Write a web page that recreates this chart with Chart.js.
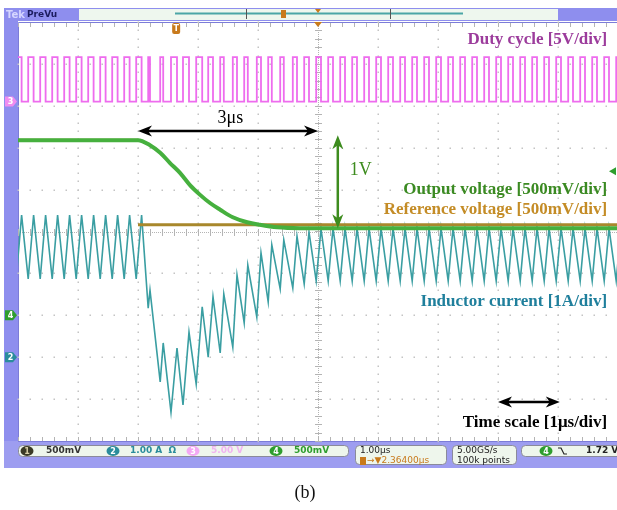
<!DOCTYPE html>
<html lang="en">
<head>
<meta charset="UTF-8">
<title>Scope capture (b)</title>
<style>
  html, body { margin: 0; padding: 0; background: #fff; overflow: hidden; }
  #wrap { width: 617px; height: 510px; overflow: hidden; }
  canvas { display: block; }
</style>
</head>
<body>
<div id="wrap"><canvas id="scope" width="620" height="510"></canvas></div>
<script src="https://cdn.jsdelivr.net/npm/chart.js"></script>
<script>
// time axis in microseconds (1 us/div, trigger at 0), vertical axis in screen divisions
const timeRange = [-5, 5];
const divRange = [-5, 5];

// channel settings: ch1 reference, ch2 inductor, ch3 duty, ch4 output
const channelScale = [0.5, 1, 5, 0.5];      // V/div or A/div
const channelOffset = [-2.0, -3.0, 3.1, -2.0]; // ground marker, divisions

// output voltage (ch4), volts
const outTime = [-5, -3.0, -2.8, -2.63, -2.47, -2.3, -2.13, -1.97, -1.8, -1.63, -1.42, -1.18, -0.97, -0.68, -0.3, 5];
const outVolts = [2.09, 2.09, 2.03, 1.94, 1.82, 1.70, 1.55, 1.44, 1.34, 1.26, 1.17, 1.11, 1.08, 1.05, 1.04, 1.04];

// reference voltage (ch1), volts; null = step edge not captured
const refTime = [-5, -3.0, -3.0, -3.0, 5];
const refVolts = [2.09, 2.09, null, 1.08, 1.08];

// inductor current (ch2), amps, valley/peak corners
const indTime = [-5.03, -4.94, -4.83, -4.74, -4.63, -4.54, -4.43, -4.34, -4.23, -4.14, -4.03, -3.94,
  -3.83, -3.74, -3.63, -3.54, -3.43, -3.34, -3.23, -3.14, -3.03, -2.94,
  -2.83, -2.80, -2.63, -2.58, -2.45, -2.35, -2.25, -2.15, -2.03, -1.93, -1.83, -1.75, -1.63, -1.57,
  -1.42, -1.35, -1.23, -1.17, -1.02, -0.95, -0.83, -0.77, -0.63, -0.57, -0.42, -0.35, -0.23, -0.15, -0.03, 0.05,
  0.17, 0.25, 0.37, 0.45, 0.57, 0.65, 0.77, 0.85, 0.97, 1.05, 1.17, 1.25, 1.37, 1.45, 1.57, 1.65, 1.77, 1.85,
  1.97, 2.05, 2.17, 2.25, 2.37, 2.45, 2.57, 2.65, 2.77, 2.85, 2.97, 3.05, 3.17, 3.25, 3.37, 3.45, 3.57, 3.65,
  3.77, 3.85, 3.97, 4.05, 4.17, 4.25, 4.37, 4.45, 4.57, 4.65, 4.77, 4.85, 4.97, 5.05];
const indAmps = [1.87, 3.39, 1.87, 3.39, 1.87, 3.39, 1.87, 3.39, 1.87, 3.39, 1.87, 3.39,
  1.87, 3.39, 1.87, 3.39, 1.87, 3.39, 1.87, 3.39, 1.87, 3.39,
  1.17, 1.60, -0.59, 0.34, -1.31, 0.22, -1.14, 0.60, -0.64, 1.20, 0.00, 1.44, 0.10, 1.51,
  0.24, 1.96, 0.82, 2.20, 0.96, 2.49, 1.32, 2.68, 1.63, 2.80, 1.65, 2.89, 1.75, 2.99, 1.82, 3.06,
  1.82, 3.08, 1.82, 3.08, 1.82, 3.08, 1.82, 3.08, 1.82, 3.08, 1.82, 3.08, 1.82, 3.08, 1.82, 3.08, 1.82, 3.08,
  1.82, 3.08, 1.82, 3.08, 1.82, 3.08, 1.82, 3.08, 1.82, 3.08, 1.82, 3.08, 1.82, 3.08, 1.82, 3.08, 1.82, 3.08,
  1.82, 3.08, 1.82, 3.08, 1.82, 3.08, 1.82, 3.08, 1.82, 3.08, 1.82, 3.08, 1.82, 3.08];

// duty cycle (ch3): switch-on and switch-off instants, us
const dutyRise = [-5.03, -4.83, -4.63, -4.43, -4.23, -4.03, -3.83, -3.63, -3.43, -3.23, -3.03,
  -2.83, -2.63, -2.45, -2.25, -2.03, -1.83, -1.63, -1.42, -1.23, -1.02, -0.83, -0.63, -0.42, -0.23, -0.03,
  0.17, 0.37, 0.57, 0.77, 0.97, 1.17, 1.37, 1.57, 1.77, 1.97, 2.17, 2.37, 2.57, 2.77, 2.97,
  3.17, 3.37, 3.57, 3.77, 3.97, 4.17, 4.37, 4.57, 4.77, 4.97];
const dutyFall = [-4.94, -4.74, -4.54, -4.34, -4.14, -3.94, -3.74, -3.54, -3.34, -3.14, -2.94,
  -2.80, -2.58, -2.35, -2.15, -1.93, -1.75, -1.57, -1.35, -1.17, -0.95, -0.77, -0.57, -0.35, -0.15, 0.05,
  0.25, 0.45, 0.65, 0.85, 1.05, 1.25, 1.45, 1.65, 1.85, 2.05, 2.25, 2.45, 2.65, 2.85, 3.05,
  3.25, 3.45, 3.65, 3.85, 4.05, 4.25, 4.45, 4.65, 4.85, 5.05];
const dutyVolts = [0, 5.3];

const triggerTime = -2.364; // us, 'T' marker
const triggerLevel = 1.72;  // V on ch4

// convert a channel value to screen divisions
function toDiv(ch, v) { return v === null ? null : channelOffset[ch] + v / channelScale[ch]; }

function series(ch, times, vals) {
  return times.map((t, i) => ({ x: t, y: toDiv(ch, vals[i]) }));
}

const dutyPoints = [{ x: -5.2, y: toDiv(2, dutyVolts[0]) }];
dutyRise.forEach((t, i) => {
  dutyPoints.push({ x: t, y: toDiv(2, dutyVolts[0]) });
  dutyPoints.push({ x: t, y: toDiv(2, dutyVolts[1]) });
  dutyPoints.push({ x: dutyFall[i], y: toDiv(2, dutyVolts[1]) });
  dutyPoints.push({ x: dutyFall[i], y: toDiv(2, dutyVolts[0]) });
});

const SERIF = '"Liberation Serif", "Times New Roman", serif';
const SANS = '"DejaVu Sans", sans-serif';

function arrow(ctx, x1, y1, x2, y2, color) {
  const ang = Math.atan2(y2 - y1, x2 - x1);
  const L = 14, W = 5.5;
  ctx.save();
  ctx.strokeStyle = color; ctx.fillStyle = color; ctx.lineWidth = 2.5;
  ctx.beginPath();
  ctx.moveTo(x1 + Math.cos(ang) * 8, y1 + Math.sin(ang) * 8);
  ctx.lineTo(x2 - Math.cos(ang) * 8, y2 - Math.sin(ang) * 8);
  ctx.stroke();
  [[x2, y2, ang], [x1, y1, ang + Math.PI]].forEach(([tx, ty, a]) => {
    const c = Math.cos(a), s = Math.sin(a);
    ctx.beginPath();
    ctx.moveTo(tx, ty);
    ctx.lineTo(tx - L * c - W * s, ty - L * s + W * c);
    ctx.lineTo(tx - (L - 4) * c, ty - (L - 4) * s);
    ctx.lineTo(tx - L * c + W * s, ty - L * s - W * c);
    ctx.closePath();
    ctx.fill();
  });
  ctx.restore();
}

function chanTag(ctx, y, color, label) {
  ctx.save();
  ctx.fillStyle = color;
  ctx.beginPath();
  ctx.moveTo(5, y - 5); ctx.lineTo(13, y - 5); ctx.lineTo(17, y);
  ctx.lineTo(13, y + 5); ctx.lineTo(5, y + 5); ctx.closePath();
  ctx.fill();
  ctx.fillStyle = '#fff';
  ctx.font = 'bold 8px ' + SANS;
  ctx.textAlign = 'center'; ctx.textBaseline = 'middle';
  ctx.fillText(label, 10.5, y + 0.5);
  ctx.restore();
}

function pillTag(ctx, cx, cy, color, textColor, label) {
  ctx.save();
  ctx.fillStyle = color;
  ctx.beginPath();
  ctx.ellipse(cx, cy, 6.5, 5, 0, 0, Math.PI * 2);
  ctx.fill();
  ctx.fillStyle = textColor;
  ctx.font = 'bold 8px ' + SANS;
  ctx.textAlign = 'center'; ctx.textBaseline = 'middle';
  ctx.fillText(label, cx, cy + 0.5);
  ctx.restore();
}

function box(ctx, x, y, w, h) {
  ctx.save();
  ctx.fillStyle = '#eef6ec';
  ctx.strokeStyle = '#8a8a9a';
  ctx.lineWidth = 1;
  ctx.beginPath();
  ctx.roundRect(x + 0.5, y + 0.5, w, h, 4);
  ctx.fill(); ctx.stroke();
  ctx.restore();
}

const scopeFrame = {
  id: 'scopeFrame',
  beforeDraw(chart) {
    const { ctx, chartArea: a } = chart;
    ctx.save();
    // side strip and status bars
    ctx.fillStyle = '#8e8eee';
    ctx.fillRect(4, 8, a.left - 4, a.bottom - 8);
    ctx.fillStyle = '#9d9df0';
    ctx.fillRect(4, a.bottom, 620, 27);
    // top bar
    ctx.fillStyle = '#8e8eee';
    ctx.fillRect(4, 8, 74, 13);
    ctx.fillRect(558, 8, 70, 13);
    ctx.fillStyle = '#eef7ee';
    ctx.fillRect(78, 8, 480, 13);
    ctx.strokeStyle = '#8e8eee';
    ctx.lineWidth = 1;
    ctx.strokeRect(78.5, 8.5, 480, 12);
    ctx.font = 'bold 10px ' + SANS;
    ctx.textBaseline = 'middle';
    ctx.fillStyle = '#d6d6ff';
    ctx.fillText('Tek', 6, 15);
    ctx.fillStyle = '#1c1c5e';
    ctx.font = 'bold 9px ' + SANS;
    ctx.fillText('PreVu', 27, 14.5);
    ctx.fillStyle = '#4aa6a6';
    ctx.fillRect(175, 12.5, 288, 2);
    ctx.fillStyle = '#555';
    ctx.fillRect(246, 9, 1, 10);
    ctx.fillRect(390, 9, 1, 10);
    ctx.fillStyle = '#c87a1c';
    ctx.fillRect(281, 10, 5, 8);
    // plot background and border
    ctx.fillStyle = '#ffffff';
    ctx.fillRect(a.left, a.top, a.right - a.left, a.bottom - a.top);
    ctx.strokeStyle = '#7c7cd8';
    ctx.beginPath();
    ctx.moveTo(a.left + 0.5, a.bottom); ctx.lineTo(a.left + 0.5, a.top + 0.5);
    ctx.lineTo(a.right, a.top + 0.5);
    ctx.moveTo(a.left, a.bottom + 0.5); ctx.lineTo(a.right, a.bottom + 0.5);
    ctx.stroke();
    ctx.restore();
  },
  beforeDatasetsDraw(chart) {
    const { ctx, chartArea: a, scales: { x, y } } = chart;
    ctx.save();
    ctx.fillStyle = '#c4c4c4';
    for (let gx = timeRange[0] + 1; gx < timeRange[1]; gx++) {
      if (gx === 0) continue;
      const px = Math.round(x.getPixelForValue(gx));
      for (let v = divRange[0]; v <= divRange[1] + 1e-6; v += 0.2) {
        ctx.fillRect(px - 0.5, Math.round(y.getPixelForValue(v)) - 0.5, 1.5, 1.5);
      }
    }
    for (let gy = divRange[0] + 1; gy < divRange[1]; gy++) {
      if (gy === 0) continue;
      const py = Math.round(y.getPixelForValue(gy));
      for (let t = timeRange[0]; t <= timeRange[1] + 1e-6; t += 0.2) {
        ctx.fillRect(Math.round(x.getPixelForValue(t)) - 0.5, py - 0.5, 1.5, 1.5);
      }
    }
    // centre cross with minor ticks
    const cx = Math.round(x.getPixelForValue(0));
    const cy = Math.round(y.getPixelForValue(0));
    ctx.fillStyle = '#b4b4b4';
    for (let v = divRange[0]; v <= divRange[1] + 1e-6; v += 0.2) {
      const py = Math.round(y.getPixelForValue(v));
      ctx.fillRect(cx - 3, py, 7, 1);
    }
    for (let t = timeRange[0]; t <= timeRange[1] + 1e-6; t += 0.2) {
      const px = Math.round(x.getPixelForValue(t));
      ctx.fillRect(px, cy - 3, 1, 7);
      ctx.fillRect(px, a.top + 1, 1, 4);
      ctx.fillRect(px, a.bottom - 4, 1, 4);
    }
    for (let py = a.top; py < a.bottom; py += 2) ctx.fillRect(cx, py, 1, 1);
    for (let px = a.left; px < a.right; px += 2) ctx.fillRect(px, cy, 1, 1);
    ctx.restore();
  },
  afterDatasetsDraw(chart) {
    const { ctx, scales: { x, y }, chartArea: a } = chart;
    const X = t => x.getPixelForValue(t), Y = v => y.getPixelForValue(v);

    // dimension arrows
    arrow(ctx, X(-3), Y(2.40), X(0), Y(2.40), '#000');
    arrow(ctx, X(0.33), Y(2.30), X(0.33), Y(0.08), '#3d8c1e');
    arrow(ctx, X(3.0), Y(-4.07), X(4.03), Y(-4.07), '#000');

    ctx.save();
    ctx.textBaseline = 'alphabetic';
    ctx.font = '18px ' + SERIF;
    ctx.fillStyle = '#000';
    ctx.textAlign = 'center';
    ctx.fillText('3μs', X(-1.46), Y(2.59));
    ctx.fillStyle = '#3d8c1e';
    ctx.textAlign = 'left';
    ctx.fillText('1V', X(0.53), Y(1.35));

    ctx.font = 'bold 17px ' + SERIF;
    ctx.textAlign = 'right';
    const rx = X(4.82);
    ctx.fillStyle = '#9c3c9c';
    ctx.fillText('Duty cycle [5V/div]', rx, Y(4.47));
    ctx.fillStyle = '#3b8a22';
    ctx.fillText('Output voltage [500mV/div]', rx, Y(0.895));
    ctx.fillStyle = '#c48c26';
    ctx.fillText('Reference voltage [500mV/div]', rx, Y(0.406));
    ctx.fillStyle = '#1f7f9c';
    ctx.fillText('Inductor current [1A/div]', rx, Y(-1.778));
    ctx.fillStyle = '#000';
    ctx.fillText('Time scale [1μs/div]', rx, Y(-4.666));
    ctx.restore();

    // channel ground markers
    chanTag(ctx, Y(toDiv(2, 0)), '#f08cf0', '3');
    chanTag(ctx, Y(toDiv(3, 0)), '#2e9e2e', '4');
    chanTag(ctx, Y(toDiv(1, 0)), '#2a8c9c', '2');

    // trigger position and level markers
    ctx.save();
    const tx = X(triggerTime);
    ctx.fillStyle = '#c87a1c';
    ctx.beginPath(); ctx.roundRect(tx - 4, a.top + 1, 8, 11, 2); ctx.fill();
    ctx.fillStyle = '#fff';
    ctx.font = 'bold 8px ' + SANS;
    ctx.textAlign = 'center'; ctx.textBaseline = 'middle';
    ctx.fillText('T', tx, a.top + 7);
    ctx.fillStyle = '#c87a1c';
    ctx.beginPath();
    ctx.moveTo(X(0) - 4, a.top); ctx.lineTo(X(0) + 4, a.top); ctx.lineTo(X(0), a.top + 5);
    ctx.closePath(); ctx.fill();
    ctx.beginPath();
    ctx.moveTo(X(0) - 3, 9); ctx.lineTo(X(0) + 3, 9); ctx.lineTo(X(0), 13);
    ctx.closePath(); ctx.fill();
    const ly = Y(toDiv(3, triggerLevel));
    ctx.fillStyle = '#2e9e2e';
    ctx.beginPath();
    ctx.moveTo(609, ly); ctx.lineTo(616, ly - 4); ctx.lineTo(616, ly + 4);
    ctx.closePath(); ctx.fill();
    ctx.restore();
  },
  afterDraw(chart) {
    const { ctx, chartArea: a } = chart;
    const by = a.bottom + 4;
    ctx.save();
    box(ctx, 18, by, 330, 11);
    box(ctx, 355, by, 91, 19);
    box(ctx, 452, by, 64, 19);
    box(ctx, 521, by, 110, 11);
    const my = by + 6;
    ctx.font = 'bold 9px ' + SANS;
    ctx.textBaseline = 'middle';
    pillTag(ctx, 27, my, '#3a3a26', '#d8d0a8', '1');
    ctx.fillStyle = '#333';
    ctx.fillText('500mV', 46, my);
    pillTag(ctx, 113, my, '#2a8c9c', '#fff', '2');
    ctx.fillStyle = '#2a8c9c';
    ctx.fillText('1.00 A  Ω', 130, my);
    pillTag(ctx, 193, my, '#f4a8f4', '#fff', '3');
    ctx.fillStyle = '#f0b4f0';
    ctx.fillText('5.00 V', 211, my);
    pillTag(ctx, 276, my, '#2e9e2e', '#fff', '4');
    ctx.fillStyle = '#2e9e2e';
    ctx.fillText('500mV', 294, my);

    ctx.font = '9px ' + SANS;
    ctx.fillStyle = '#222';
    ctx.fillText('1.00μs', 360, my);
    ctx.fillText('5.00GS/s', 457, my);
    ctx.fillText('100k points', 457, my + 10);
    ctx.fillStyle = '#c87a1c';
    ctx.fillRect(360, my + 6, 6, 8);
    ctx.fillText('→▼2.36400μs', 367, my + 10);

    pillTag(ctx, 546, my, '#2e9e2e', '#fff', '4');
    ctx.strokeStyle = '#222'; ctx.lineWidth = 1.2;
    ctx.beginPath();
    ctx.moveTo(558, my - 3); ctx.lineTo(561, my - 3); ctx.lineTo(564, my + 3); ctx.lineTo(567, my + 3);
    ctx.stroke();
    ctx.fillStyle = '#222';
    ctx.font = 'bold 9px ' + SANS;
    ctx.fillText('1.72 V', 586, my);

    ctx.font = '18px ' + SERIF;
    ctx.fillStyle = '#111';
    ctx.textAlign = 'center';
    ctx.fillText('(b)', 305, 493);
    ctx.restore();
  }
};

new Chart(document.getElementById('scope'), {
  type: 'line',
  data: {
    datasets: [
      { label: 'Duty cycle', data: dutyPoints, borderColor: '#ee6cee', borderWidth: 1.8 },
      { label: 'Output voltage', data: series(3, outTime, outVolts), borderColor: '#46b03e',
        borderWidth: 4, cubicInterpolationMode: 'monotone' },
      { label: 'Reference voltage', data: series(0, refTime, refVolts), borderColor: '#a8882c', borderWidth: 3 },
      { label: 'Inductor current', data: series(1, indTime, indAmps), borderColor: '#3a9ea2', borderWidth: 1.6 }
    ]
  },
  options: {
    responsive: false,
    animation: false,
    layout: { padding: { left: 18, top: 22, right: 2, bottom: 69 } },
    elements: { point: { radius: 0 }, line: { tension: 0 } },
    plugins: { legend: { display: false }, tooltip: { enabled: false } },
    scales: {
      x: { type: 'linear', min: timeRange[0], max: timeRange[1], display: false },
      y: { type: 'linear', min: divRange[0], max: divRange[1], display: false }
    }
  },
  plugins: [scopeFrame]
});
</script>
</body>
</html>
